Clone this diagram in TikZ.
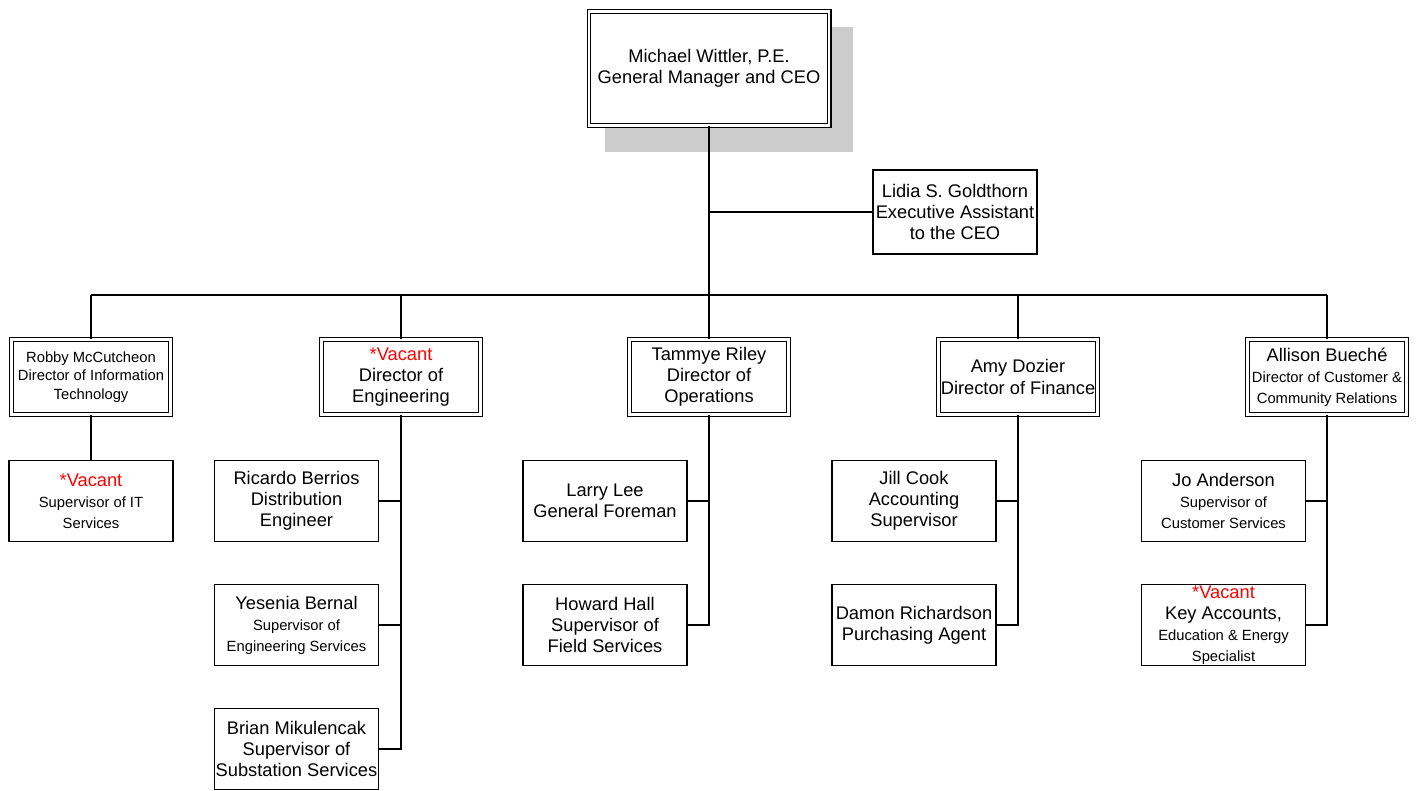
\documentclass[tikz,border=0pt]{standalone}
\usepackage{fontspec}
\setmainfont{Liberation Sans}
\usetikzlibrary{positioning}
\newcommand\sm{\fontsize{10.5}{13}\selectfont}
\newcommand\vac{{\color{red}*Vacant}}

\begin{document}
\begin{tikzpicture}[x=0.025cm, y=-0.025cm,
  font=\fontsize{13}{15}\selectfont,
  chief/.style={draw, double, line width=0.9pt, double distance=1.7pt, fill=white,
    minimum width=3.98cm, minimum height=1.88cm, align=center, inner sep=0pt},
  staff/.style={draw, line width=0.9pt, fill=white,
    minimum width=4.1cm, minimum height=2.03cm, align=center, inner sep=0pt},
  link/.style={line width=0.9pt}]
\useasboundingbox (0,0) rectangle (1417,790);

\fill[black!20] (605,27) rectangle (853,152);
\node[chief, minimum width=6.0cm, minimum height=2.85cm](ceo) at (709,68.5){Michael Wittler, P.E.\\General Manager and CEO};
\node[staff, minimum width=4.1cm, minimum height=2.1cm](asst) at (955,212){Lidia S. Goldthorn\\Executive Assistant\\to the CEO};
\coordinate (bus) at (709,295);

\node[chief, font=\sm](dirit) at (91,377){Robby McCutcheon\\Director of Information\\Technology};
\node[chief](direng) at (401,377){\vac\\Director of\\Engineering};
\node[chief](dirops) at (709,377){Tammye Riley\\Director of\\Operations};
\node[chief](dirfin) at (1018,377){Amy Dozier\\Director of Finance};
\node[chief](dircust) at (1327,377){Allison Bueché\\{\sm Director of Customer \&}\\{\sm Community Relations}};

\node[staff](itsup) at (91,501){\vac\\{\sm Supervisor of IT}\\{\sm Services}};

\node[staff](eng1) at (296.5,501){Ricardo Berrios\\Distribution\\Engineer};
\node[staff](eng2) at (296.5,625){Yesenia Bernal\\{\sm Supervisor of}\\{\sm Engineering Services}};
\node[staff](eng3) at (296.5,749){Brian Mikulencak\\Supervisor of\\Substation Services};

\node[staff](ops1) at (605,501){Larry Lee\\General Foreman};
\node[staff](ops2) at (605,625){Howard Hall\\Supervisor of\\Field Services};

\node[staff](fin1) at (914,501){Jill Cook\\Accounting\\Supervisor};
\node[staff](fin2) at (914,625){Damon Richardson\\Purchasing Agent};

\node[staff](cust1) at (1223.5,501){Jo Anderson\\{\sm Supervisor of}\\{\sm Customer Services}};
\node[staff](cust2) at (1223.5,625){\vac\\Key Accounts,\\{\sm Education \& Energy}\\{\sm Specialist}};

\draw[link] (ceo.south) -- (bus);
\draw[link] (asst.west) -- (asst.west -| ceo.south);
\draw[link] (dirit.north |- bus) -- (dircust.north |- bus);
\foreach \d in {dirit,direng,dirops,dirfin,dircust}
  \draw[link] (\d.north) -- (\d.north |- bus);

\draw[link] (dirit.south) -- (itsup.north);
\draw[link] (direng.south) |- (eng3.east);
\foreach \s in {eng1,eng2}
  \draw[link] (\s.east) -- (\s.east -| direng.south);
\draw[link] (dirops.south) |- (ops2.east);
\draw[link] (ops1.east) -- (ops1.east -| dirops.south);
\draw[link] (dirfin.south) |- (fin2.east);
\draw[link] (fin1.east) -- (fin1.east -| dirfin.south);
\draw[link] (dircust.south) |- (cust2.east);
\draw[link] (cust1.east) -- (cust1.east -| dircust.south);

\end{tikzpicture}
\end{document}
